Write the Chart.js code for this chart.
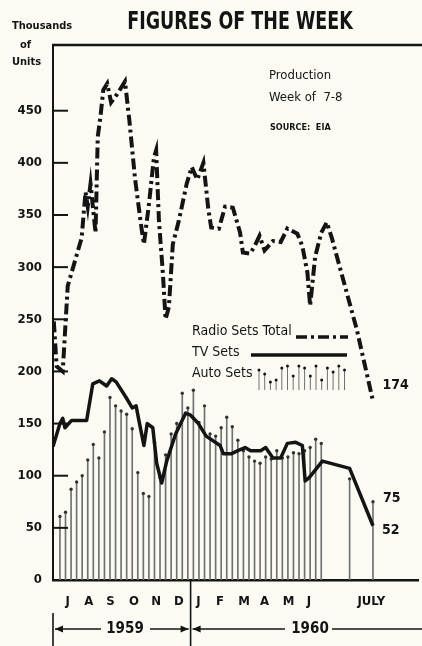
<!DOCTYPE html>
<html><head><meta charset="utf-8">
<script src="https://cdn.jsdelivr.net/npm/chart.js@4.4.1/dist/chart.umd.min.js"></script>
<style>html,body{margin:0;padding:0;background:#fbfbf4;}#wrap{width:422px;height:646px;}</style>
</head><body><div id="wrap"><canvas id="c" width="422" height="646"></canvas></div>
<script>
// ---- data (x = weeks since first week of July 1959) ----
const radioWeeks = [-1.1,-0.6,0.5,1.4,3.9,4.6,5.0,5.5,6.4,6.8,7.3,7.8,8.5,9.2,10.3,11.7,12.5,13.5,14.6,15.1,16.0,16.9,17.3,17.8,18.5,19.0,19.6,20.3,21.4,22.8,23.7,24.7,25.8,26.7,27.2,28.6,29.7,31.1,32.4,32.9,34.2,35.0,35.9,36.8,38.3,39.7,40.9,42.7,43.6,44.5,45.0,45.9,47.0,48.0,48.9,51.1,53.4,56.2];
const radioValues = [248,205,200,282,328,372,358,380,333,425,445,470,476,458,466,478,440,385,340,322,360,405,412,345,295,250,262,322,345,380,396,384,400,355,338,337,358,357,333,314,313,320,330,316,325,324,337,332,320,295,263,310,333,343,328,285,240,174];
const tvWeeks = [-1.25,0,0.5,0.9,2.1,4.8,5.9,7.1,8.4,9.3,10.1,11.9,13.0,13.7,14.2,15.1,15.7,16.7,17.4,18.3,19.2,20.8,22.6,23.5,24.9,26.3,28.8,29.4,30.8,32.0,33.3,34.3,36.1,37.0,38.3,39.7,40.9,42.4,43.6,44.1,44.8,47.2,52.1,56.3];
const tvValues = [128,150,155,146,153,153,188,191,186,193,190,175,165,167,153,129,150,146,112,93,114,140,160,158,150,138,129,121,121,124,127,124,124,127,117,117,131,132,129,95,98,114,107,52];
const autoWeeks = [0,1,2,3,4,5,6,7,8,9,10,11,12,13,14,15,16,17,18,19,20,21,22,23,24,25,26,27,28,29,30,31,32,33,34,35,36,37,38,39,40,41,42,43,44,45,46,47,52.1,56.3];
const autoValues = [61,65,87,94,100,115,130,117,142,175,167,162,159,145,103,83,80,132,98,120,140,150,179,165,182,151,167,140,138,146,156,147,134,124,118,114,112,118,116,124,117,118,122,121,124,127,135,131,97,75];
const monthLabels = ['J','A','S','O','N','D','J','F','M','A','M','J','JULY'];
const monthWeeks = [1.4,5.2,9.1,13.3,17.3,21.4,24.9,28.8,33.1,36.8,41.1,44.8,56.0];
const yTicks = [0,50,100,150,200,250,300,350,400,450];
const yearBoundary = 23.5;
const years = ['1959','1960'];

const BG = '#fbfbf4', INK = '#141414', BARC = '#707070';
const NARROW = '"Liberation Sans Narrow","DejaVu Sans Condensed","Roboto Condensed",sans-serif';

const pts = (xs, ys) => xs.map((x, i) => ({x, y: ys[i]}));

function ln(c, x1, y1, x2, y2){ c.beginPath(); c.moveTo(x1,y1); c.lineTo(x2,y2); c.stroke(); }
function arrow(c, x, y, dir){ c.beginPath(); c.moveTo(x, y); c.lineTo(x - dir*8, y - 3.5); c.lineTo(x - dir*8, y + 3.5); c.closePath(); c.fill(); }

const decor = {
  id: 'decor',
  beforeDraw(chart){ const c = chart.ctx; c.save(); c.fillStyle = BG; c.fillRect(0,0,chart.width,chart.height); c.restore(); },
  afterDraw(chart){
    const c = chart.ctx, a = chart.chartArea, xs = chart.scales.x, ys = chart.scales.y;
    c.save();
    c.strokeStyle = INK; c.fillStyle = INK;
    // top frame line
    c.lineWidth = 2.5; ln(c, a.left - 1, a.top, chart.width, a.top);
    // inner y ticks
    c.lineWidth = 2;
    yTicks.forEach(v => { if (v > 0) { const y = ys.getPixelForValue(v); ln(c, a.left, y, a.left + 15, y); } });
    // title (horizontally condensed)
    c.textBaseline = 'middle';
    c.textAlign = 'center';
    c.font = 'bold 24px ' + NARROW;
    c.save(); c.translate(240, 23); c.scale(0.81, 1); c.fillText('FIGURES OF THE WEEK', 0, 0); c.restore();
    // units
    c.textAlign = 'left';
    c.font = 'bold 11px ' + NARROW;
    c.fillText('Thousands', 12, 26);
    c.fillText('of', 20, 45);
    c.fillText('Units', 12, 62);
    // production note
    c.font = '13px ' + NARROW;
    c.fillText('Production', 269, 76);
    c.fillText('Week of  7-8', 269, 98);
    c.font = 'bold 9px ' + NARROW;
    c.fillText('SOURCE:  EIA', 270, 128);
    // legend
    c.font = '14px ' + NARROW;
    c.fillText('Radio Sets Total', 192, 331);
    c.fillText('TV Sets', 192, 352);
    c.fillText('Auto Sets', 192, 373);
    c.lineWidth = 3.5; c.setLineDash([11,4,3,4]);
    ln(c, 296, 337, 348, 337);
    c.setLineDash([]);
    ln(c, 251, 355, 347, 355);
    const hs = [20,16,8,10,22,24,14,24,22,14,24,10,22,18,24,20];
    c.lineWidth = 1;
    hs.forEach((h, i) => { const x = 259 + i * 5.7; c.strokeStyle = BARC; ln(c, x, 390, x, 390 - h); c.beginPath(); c.arc(x, 390 - h, 1.5, 0, 7); c.fill(); });
    c.strokeStyle = INK;
    // end value labels
    c.font = 'bold 14px ' + NARROW;
    const rx = xs.getPixelForValue(radioWeeks[radioWeeks.length-1]), ry = ys.getPixelForValue(radioValues[radioValues.length-1]);
    c.fillText(String(radioValues[radioValues.length-1]), rx + 10, ry - 13);
    const ax = xs.getPixelForValue(autoWeeks[autoWeeks.length-1]), ay = ys.getPixelForValue(autoValues[autoValues.length-1]);
    c.fillText(String(autoValues[autoValues.length-1]), ax + 10, ay - 3);
    const tx = xs.getPixelForValue(tvWeeks[tvWeeks.length-1]), ty = ys.getPixelForValue(tvValues[tvValues.length-1]);
    c.fillText(String(tvValues[tvValues.length-1]), tx + 9, ty + 5);
    // year divider and annotation
    const dx = xs.getPixelForValue(yearBoundary);
    c.lineWidth = 1.6;
    ln(c, dx, a.bottom, dx, chart.height);
    ln(c, a.left, 613, a.left, chart.height);
    const yy = 629;
    c.lineWidth = 1.3;
    c.font = 'bold 15px ' + NARROW;
    c.textAlign = 'center';
    c.fillText(years[0], 125, yy);
    c.fillText(years[1], 310, yy);
    ln(c, a.left + 2, yy, 101, yy); arrow(c, a.left + 2, yy, -1);
    ln(c, 150, yy, dx - 2, yy); arrow(c, dx - 2, yy, 1);
    ln(c, dx + 2, yy, 285, yy); arrow(c, dx + 2, yy, -1);
    ln(c, 332, yy, chart.width, yy);
    c.restore();
  }
};

new Chart(document.getElementById('c'), {
  type: 'bar',
  data: {
    datasets: [
      { type: 'line', label: 'Radio Sets Total', data: pts(radioWeeks, radioValues), borderColor: INK, borderWidth: 4, borderDash: [11,4,3,4], pointRadius: 0, tension: 0, order: 1 },
      { type: 'line', label: 'TV Sets', data: pts(tvWeeks, tvValues), borderColor: INK, borderWidth: 3.5, pointRadius: 0, tension: 0, order: 2, borderJoinStyle: 'round' },
      { type: 'line', label: 'Auto Sets tops', data: pts(autoWeeks, autoValues), showLine: false, pointRadius: 1.7, pointBackgroundColor: '#333', pointBorderWidth: 0, order: 3 },
      { type: 'bar', label: 'Auto Sets', data: pts(autoWeeks, autoValues), backgroundColor: BARC, barThickness: 1, order: 4 }
    ]
  },
  options: {
    responsive: false, animation: false,
    layout: { padding: { top: 45, right: 0, left: 0, bottom: 0 } },
    plugins: { legend: { display: false }, tooltip: { enabled: false }, title: { display: false } },
    scales: {
      x: {
        type: 'linear', min: -1.25, max: 64.4, offset: false,
        grid: { display: false, drawTicks: false },
        border: { display: true, color: INK, width: 2.5 },
        afterBuildTicks: s => { s.ticks = monthWeeks.map(v => ({ value: v })); },
        afterFit: s => { s.height = 66; },
        ticks: { autoSkip: false, maxRotation: 0, padding: 14, color: INK, font: { family: NARROW, weight: 'bold', size: 13 },
          callback: (v, i) => monthLabels[i] }
      },
      y: {
        min: 0, max: 513,
        grid: { display: false, drawTicks: false },
        border: { display: true, color: INK, width: 2 },
        afterBuildTicks: s => { s.ticks = yTicks.map(v => ({ value: v })); },
        afterFit: s => { s.width = 53; },
        ticks: { padding: 11, color: INK, font: { family: NARROW, weight: 'bold', size: 13 } }
      }
    }
  },
  plugins: [decor]
});
</script>
</body></html>
